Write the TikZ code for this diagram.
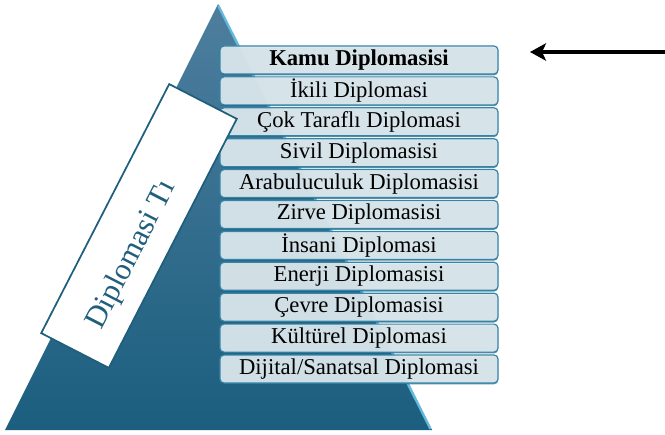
\documentclass[tikz,border=0pt]{standalone}
\usepackage{fontspec}
\setmainfont{Liberation Serif}
\usetikzlibrary{arrows.meta,shadows}

\definecolor{pyrtop}{RGB}{78,126,158}
\definecolor{pyrbot}{RGB}{27,94,126}
\definecolor{pyredge}{RGB}{100,186,222}
\definecolor{boxfill}{RGB}{228,237,241}
\definecolor{boxline}{RGB}{52,132,168}
\definecolor{labteal}{RGB}{31,95,125}

\tikzset{
  levelbox/.style={draw=boxline, line width=0.9pt, fill=boxfill, fill opacity=0.9, text opacity=1,
    rounded corners=3pt, minimum width=208.5pt, minimum height=21pt, inner sep=0pt,
    font=\fontsize{17}{20}\selectfont,
    drop shadow={shadow xshift=0pt, shadow yshift=-1pt, fill=labteal, opacity=0.7}},
  labelbox/.style={draw=labteal, line width=1.3pt, fill=white, minimum width=210pt, minimum height=57pt, inner sep=0pt},
  labeltext/.style={text=labteal, inner sep=0pt, font=\fontsize{23}{26}\selectfont},
  pointer/.style={line width=3.6pt, -{Stealth[length=12pt, width=13pt, inset=3pt]}}
}

\begin{document}
\begin{tikzpicture}[x=0.75pt,y=0.75pt,yscale=-1,xscale=1]
        \useasboundingbox (0,0) rectangle (665,435);

        % pyramid
        \shade [top color=pyrtop, bottom color=pyrbot] (218,4) -- (432,430) -- (5,430) -- cycle ;
        \draw [pyredge, line width=1.8pt] (218.5,6) -- (430.5,429) ;

        % levels
        \foreach \lbl [count=\i] in {{\bfseries Kamu Diplomasisi}, İkili Diplomasi, Çok Taraflı Diplomasi,
            Sivil Diplomasisi, Arabuluculuk Diplomasisi, Zirve Diplomasisi, İnsani Diplomasi,
            Enerji Diplomasisi, Çevre Diplomasisi, Kültürel Diplomasi, Dijital/Sanatsal Diplomasi}
          \node [levelbox] (lvl\i) at (359,{60+30.9*(\i-1)}) {\lbl};

        % tilted title
        \node [labelbox, rotate=62.8] (titlebox) at (139,226) {};
        \node [labeltext, rotate=62.8] (titletext) at (132,255) {Diplomasi Tı};

        % pointer to the top level
        \coordinate (arrtail) at (665,52);
        \coordinate (arrhead) at (530,52);
        \draw [pointer] (arrtail) -- (arrhead);

\end{tikzpicture}
\end{document}
